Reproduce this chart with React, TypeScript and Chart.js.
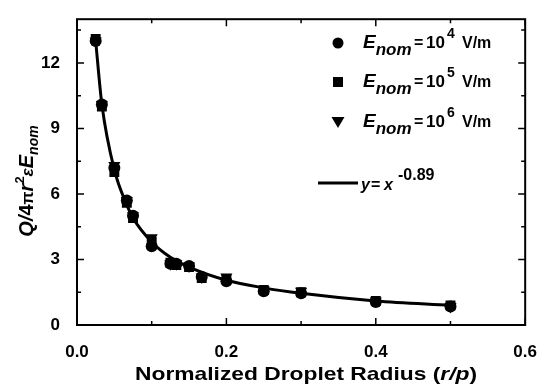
import React, { useEffect, useRef } from "react";
import { Chart, registerables } from "chart.js";

Chart.register(...registerables);

const xValues = [0.025, 0.0333, 0.05, 0.0667, 0.075, 0.1, 0.125, 0.133, 0.15, 0.167, 0.2, 0.25, 0.3, 0.4, 0.5];
const e4Values = [13.0, 10.1, 7.2, 5.7, 5.0, 3.6, 2.8, 2.8, 2.7, 2.2, 2.0, 1.55, 1.45, 1.05, 0.85];
const e5Values = [13.1, 10.0, 7.0, 5.6, 4.9, 3.8, 2.85, 2.75, 2.65, 2.15, 2.1, 1.6, 1.5, 1.1, 0.9];
const e6Values = [13.0, 10.1, 7.3, 5.7, 5.0, 4.0, 2.8, 2.8, 2.7, 2.2, 2.2, 1.6, 1.55, 1.1, 0.85];

const fitX = [0.025, 0.0333, 0.05, 0.0667, 0.075, 0.1, 0.125, 0.15, 0.2, 0.25, 0.3, 0.4, 0.5];
const fitY = [13.0, 10.1, 7.1, 5.5, 4.9, 3.8, 3.1, 2.65, 2.05, 1.7, 1.45, 1.1, 0.9];

const xTicks = [0, 0.2, 0.4, 0.6];
const xMinorTicks = [0.1, 0.3, 0.5];
const yTicks = [0, 3, 6, 9, 12];
const yMinorTicks = [1.5, 4.5, 7.5, 10.5, 13.5];

const legendExponents = ["4", "5", "6"];

const FAM = '"Liberation Sans", Arial, sans-serif';

type Seg = { t: string; f: string; dy?: number; x?: number };

function richWidth(ctx: CanvasRenderingContext2D, segs: Seg[]) {
  let w = 0;
  for (const s of segs) {
    ctx.font = s.f;
    w += ctx.measureText(s.t).width;
  }
  return w;
}

function drawRich(ctx: CanvasRenderingContext2D, segs: Seg[], x: number, y: number) {
  let cx = x;
  for (const s of segs) {
    if (s.x !== undefined) cx = s.x;
    ctx.font = s.f;
    ctx.fillText(s.t, cx, y + (s.dy || 0));
    cx += ctx.measureText(s.t).width;
  }
}

const decorPlugin = {
  id: "decor",
  afterDraw(chart: any) {
    const ctx: CanvasRenderingContext2D = chart.ctx;
    const { left, right, top, bottom } = chart.chartArea;
    const xs = chart.scales.x;
    const ys = chart.scales.y;
    ctx.save();
    ctx.strokeStyle = "#000";
    ctx.fillStyle = "#000";
    ctx.lineWidth = 2;
    ctx.strokeRect(left, top, right - left, bottom - top);
    ctx.lineWidth = 1.5;
    const drawX = (v: number, len: number) => {
      const p = xs.getPixelForValue(v);
      ctx.beginPath();
      ctx.moveTo(p, bottom);
      ctx.lineTo(p, bottom - len);
      ctx.moveTo(p, top);
      ctx.lineTo(p, top + len);
      ctx.stroke();
    };
    const drawY = (v: number, len: number) => {
      const p = ys.getPixelForValue(v);
      ctx.beginPath();
      ctx.moveTo(left, p);
      ctx.lineTo(left + len, p);
      ctx.moveTo(right, p);
      ctx.lineTo(right - len, p);
      ctx.stroke();
    };
    xTicks.forEach((v) => drawX(v, 7));
    xMinorTicks.forEach((v) => drawX(v, 4));
    yTicks.forEach((v) => drawY(v, 7));
    yMinorTicks.forEach((v) => drawY(v, 4));

    ctx.textBaseline = "alphabetic";
    ctx.textAlign = "left";

    // X title (horizontally widened like the reference)
    const xt: Seg[] = [
      { t: "Normalized Droplet Radius (", f: `bold 19px ${FAM}` },
      { t: "r/p", f: `italic bold 19px ${FAM}` },
      { t: ")", f: `bold 19px ${FAM}` },
    ];
    const xw = richWidth(ctx, xt);
    const sx = 342 / xw;
    ctx.save();
    ctx.translate(306, 380);
    ctx.scale(sx, 1);
    drawRich(ctx, xt, -xw / 2, 0);
    ctx.restore();

    // Y title
    const yt: Seg[] = [
      { t: "Q/", f: `italic bold 20px ${FAM}` },
      { t: "4", f: `bold 20px ${FAM}` },
      { t: "\u03c0", f: `bold 17px ${FAM}` },
      { t: "r", f: `italic bold 20px ${FAM}` },
      { t: "2", f: `bold 13px ${FAM}`, dy: -9 },
      { t: "\u03b5", f: `italic bold 17px ${FAM}` },
      { t: "E", f: `italic bold 20px ${FAM}` },
      { t: "nom", f: `italic bold 14px ${FAM}`, dy: 5 },
    ];
    ctx.save();
    ctx.translate(33, 181);
    ctx.rotate(-Math.PI / 2);
    const yw = richWidth(ctx, yt);
    drawRich(ctx, yt, -yw / 2, 0);
    ctx.restore();

    // Legend
    const mx = 338;
    const rows = [
      { base: 48, shape: "circle" },
      { base: 87, shape: "square" },
      { base: 127, shape: "tri" },
    ];
    rows.forEach((r, i) => {
      const cy = r.base - 5;
      ctx.beginPath();
      if (r.shape === "circle") {
        ctx.arc(mx, cy, 5.5, 0, Math.PI * 2);
      } else if (r.shape === "square") {
        ctx.rect(mx - 5, cy - 5, 10, 10);
      } else {
        ctx.moveTo(mx - 6.5, cy - 5);
        ctx.lineTo(mx + 6.5, cy - 5);
        ctx.lineTo(mx, cy + 6);
        ctx.closePath();
      }
      ctx.fill();
      drawRich(
        ctx,
        [
          { t: "E", f: `italic bold 19px ${FAM}` },
          { t: "nom", f: `italic bold 17px ${FAM}`, dy: 7 },
          { t: "=", f: `bold 16px ${FAM}`, x: 414 },
          { t: "10", f: `bold 17px ${FAM}`, x: 426 },
          { t: legendExponents[i], f: `bold 14px ${FAM}`, dy: -10, x: 447 },
          { t: "V/m", f: `bold 16px ${FAM}`, x: 462 },
        ],
        363,
        r.base
      );
    });
    ctx.lineWidth = 3;
    ctx.beginPath();
    ctx.moveTo(318, 183);
    ctx.lineTo(358, 183);
    ctx.stroke();
    drawRich(
      ctx,
      [
        { t: "y", f: `italic bold 16px ${FAM}`, x: 361 },
        { t: "=", f: `bold 16px ${FAM}`, x: 371 },
        { t: "x", f: `italic bold 16px ${FAM}`, x: 384 },
        { t: "-0.89", f: `bold 16px ${FAM}`, dy: -10, x: 398 },
      ],
      361,
      190
    );
    ctx.restore();
  },
};

export default function App() {
  const ref = useRef<HTMLCanvasElement | null>(null);
  useEffect(() => {
    if (!ref.current) return;
    const mk = (ys: number[]) => xValues.map((x, i) => ({ x, y: ys[i] }));
    const chart = new Chart(ref.current, {
      type: "scatter",
      data: {
        datasets: [
          {
            label: "E4",
            data: mk(e4Values),
            pointStyle: "circle",
            pointRadius: 6,
            backgroundColor: "#000",
            borderColor: "#000",
            borderWidth: 0,
            order: 1,
          },
          {
            label: "E5",
            data: mk(e5Values),
            pointStyle: "rect",
            pointRadius: 7,
            backgroundColor: "#000",
            borderColor: "#000",
            borderWidth: 0,
            order: 2,
          },
          {
            label: "E6",
            data: mk(e6Values),
            pointStyle: "triangle",
            rotation: 180,
            pointRadius: 7,
            backgroundColor: "#000",
            borderColor: "#000",
            borderWidth: 0,
            order: 3,
          },
          {
            type: "line",
            label: "fit",
            data: fitX.map((x, i) => ({ x, y: fitY[i] })),
            showLine: true,
            cubicInterpolationMode: "monotone",
            pointRadius: 0,
            borderColor: "#000",
            borderWidth: 3,
            fill: false,
            order: 10,
          } as any,
        ],
      },
      options: {
        responsive: false,
        animation: false,
        layout: { padding: { left: 0, top: 16, right: 13, bottom: 0 } },
        plugins: { legend: { display: false }, tooltip: { enabled: false } },
        scales: {
          x: {
            type: "linear",
            min: 0,
            max: 0.6,
            grid: { display: false },
            border: { display: false },
            afterBuildTicks: (s: any) => {
              s.ticks = xTicks.map((v) => ({ value: v }));
            },
            afterFit: (s: any) => {
              s.height = 62;
            },
            ticks: {
              padding: 9,
              maxRotation: 0,
              color: "#000",
              font: { family: "Liberation Sans", size: 17, weight: "bold" },
              callback: (v: any) => Number(v).toFixed(1),
            },
          },
          y: {
            type: "linear",
            min: 0,
            max: 14,
            grid: { display: false },
            border: { display: false },
            afterBuildTicks: (s: any) => {
              s.ticks = yTicks.map((v) => ({ value: v }));
            },
            afterFit: (s: any) => {
              s.width = 77;
            },
            ticks: {
              padding: 9,
              color: "#000",
              font: { family: "Liberation Sans", size: 17, weight: "bold" },
              callback: (v: any) => String(v),
            },
          },
        },
      } as any,
      plugins: [decorPlugin],
    });
    return () => chart.destroy();
  }, []);
  return (
    <div style={{ position: "absolute", left: 0, top: 0, width: 546, height: 387, background: "#fff" }}>
      <canvas ref={ref} width={546} height={387} style={{ width: 546, height: 387 }} />
    </div>
  );
}
